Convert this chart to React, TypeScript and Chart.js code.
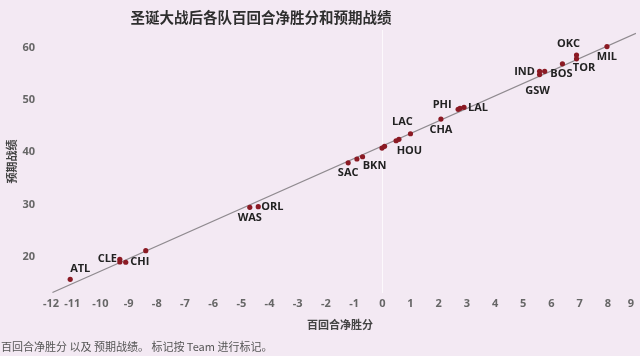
import React, { useEffect, useRef } from 'react';
import { Chart, registerables } from 'chart.js';

Chart.register(...registerables);

// ---- data ----
const teams = ['ATL', 'CLE', '', 'CHI', '', 'WAS', 'ORL', 'SAC', '', 'BKN', '', '', '', 'HOU', 'LAC', 'CHA', 'PHI', '', 'LAL', 'IND', 'GSW', '', 'BOS', 'OKC', 'TOR', 'MIL'];
const netRating = [-11.07, -9.31, -9.31, -9.1, -8.39, -4.7, -4.4, -1.21, -0.9, -0.7, -0.01, 0.08, 0.49, 0.59, 1.0, 2.08, 2.69, 2.76, 2.9, 5.58, 5.58, 5.76, 6.39, 6.89, 6.89, 7.97];
const expectedWins = [15.67, 19.5, 18.98, 18.93, 21.15, 29.46, 29.58, 38.0, 38.72, 39.16, 40.82, 41.15, 42.22, 42.49, 43.56, 46.38, 48.24, 48.43, 48.62, 55.52, 54.9, 55.52, 56.97, 58.64, 57.93, 60.27];
const trendX = [-11.7, 9];
const trendY = [13.14, 62.8];
const xTicks = [-12, -11, -10, -9, -8, -7, -6, -5, -4, -3, -2, -1, 0, 1, 2, 3, 4, 5, 6, 7, 8, 9];
const yTicks = [20, 30, 40, 50, 60];

const titleText = '圣诞大战后各队百回合净胜分和预期战绩';
const xTitle = '百回合净胜分';
const yTitle = '预期战绩';
const footerText = '百回合净胜分 以及 预期战绩。 标记按 Team 进行标记。';

// label placement (pixel offsets from each point)
const labelOffsets: Record<string, [number, number]> = {
  ATL: [10, -10.6], CLE: [-12.5, -0.6], CHI: [14, 0], WAS: [0, 11], ORL: [14, 0],
  SAC: [0, 10], BKN: [12, 9.3], HOU: [10.5, 11.7], LAC: [-8, -12], CHA: [0, 10.7],
  PHI: [-16, -4.6], LAL: [14, 0.5], IND: [-15, 0], GSW: [-2, 16], BOS: [-1, 10.5],
  OKC: [-8, -11], TOR: [7.5, 9], MIL: [0, 10.7],
};

const LATIN = '"Open Sans", "Noto Sans CJK SC", sans-serif';
const CJK = '"Noto Sans CJK SC", "Open Sans", sans-serif';

const decorPlugin = {
  id: 'decor',
  afterDraw(chart: any) {
    const { ctx, chartArea } = chart;
    const xs = chart.scales.x;
    ctx.save();
    // title
    ctx.font = `bold 14.5px ${CJK}`;
    ctx.fillStyle = '#2e2e2e';
    ctx.textAlign = 'center';
    ctx.textBaseline = 'middle';
    ctx.fillText(titleText, 261, 17);
    // x tick labels, clamped inside the plot pane
    ctx.font = `bold 11px ${LATIN}`;
    ctx.fillStyle = '#666666';
    ctx.textAlign = 'left';
    xTicks.forEach((v) => {
      const label = String(v);
      const w = ctx.measureText(label).width;
      const cx = xs.getPixelForValue(v);
      let left = cx - w / 2;
      if (left < chartArea.left - 1) left = chartArea.left - 1;
      if (left + w > chartArea.right - 2) left = chartArea.right - 2 - w;
      ctx.fillText(label, left, chartArea.bottom + 11);
    });
    // point labels
    const meta = chart.getDatasetMeta(0);
    ctx.font = `bold 11px ${LATIN}`;
    ctx.fillStyle = '#222222';
    ctx.textAlign = 'center';
    meta.data.forEach((pt: any, i: number) => {
      const name = teams[i];
      if (!name) return;
      const off = labelOffsets[name] || [0, 10];
      ctx.fillText(name, pt.x + off[0], pt.y + off[1]);
    });
    // footer
    ctx.font = `11px ${CJK}`;
    ctx.fillStyle = '#555555';
    ctx.textAlign = 'left';
    ctx.fillText(footerText, 1, 347);
    ctx.restore();
  },
};

export default function App() {
  const canvasRef = useRef<HTMLCanvasElement | null>(null);

  useEffect(() => {
    const canvas = canvasRef.current;
    if (!canvas) return;
    const chart = new Chart(canvas, {
      type: 'scatter',
      data: {
        datasets: [
          {
            label: 'Teams',
            data: netRating.map((x, i) => ({ x, y: expectedWins[i] })),
            pointBackgroundColor: '#8b1a24',
            pointBorderWidth: 0,
            pointRadius: 2.6,
            order: 0,
          },
          {
            type: 'line',
            label: 'Trend',
            data: trendX.map((x, i) => ({ x, y: trendY[i] })),
            borderColor: '#8f8a8f',
            borderWidth: 1.2,
            pointRadius: 0,
            fill: false,
            order: 1,
          } as any,
        ],
      },
      options: {
        animation: false,
        responsive: true,
        maintainAspectRatio: false,
        layout: { padding: { top: 30, bottom: 23, left: 0, right: 0 } },
        plugins: {
          legend: { display: false },
          tooltip: { enabled: false },
          title: { display: false },
        },
        scales: {
          x: {
            type: 'linear',
            position: 'bottom',
            min: -12,
            max: 9,
            border: { display: false },
            grid: {
              drawTicks: false,
              lineWidth: 1,
              color: (c: any) => (c.tick && c.tick.value === 0 ? 'rgba(255,255,255,0.7)' : 'rgba(0,0,0,0)'),
            },
            ticks: { display: false },
            afterBuildTicks: (s: any) => {
              s.ticks = xTicks.map((v) => ({ value: v }));
            },
            afterFit: (s: any) => {
              s.height = 40;
              s.paddingLeft = 0;
              s.paddingRight = 0;
            },
            title: {
              display: true,
              text: xTitle,
              color: '#444444',
              font: { family: CJK, size: 11, weight: 'bold' },
              padding: { top: 0, bottom: 2 },
            },
          },
          y: {
            type: 'linear',
            min: 13.04,
            max: 63.45,
            border: { display: false },
            grid: { display: false, drawTicks: false },
            ticks: {
              color: '#666666',
              font: { family: LATIN, size: 11, weight: 'bold' },
              padding: 9,
            },
            afterBuildTicks: (s: any) => {
              s.ticks = yTicks.map((v) => ({ value: v }));
            },
            afterFit: (s: any) => {
              s.width = 44;
            },
            title: {
              display: true,
              text: yTitle,
              color: '#444444',
              font: { family: CJK, size: 11, weight: 'bold' },
              padding: { top: 5, bottom: 0 },
            },
          },
        },
      },
      plugins: [decorPlugin],
    });
    return () => chart.destroy();
  }, []);

  return (
    <div
      style={{
        position: 'absolute',
        left: 0,
        top: 0,
        width: 640,
        height: 356,
        background: '#f3e9f3',
      }}
    >
      <canvas ref={canvasRef} />
    </div>
  );
}
